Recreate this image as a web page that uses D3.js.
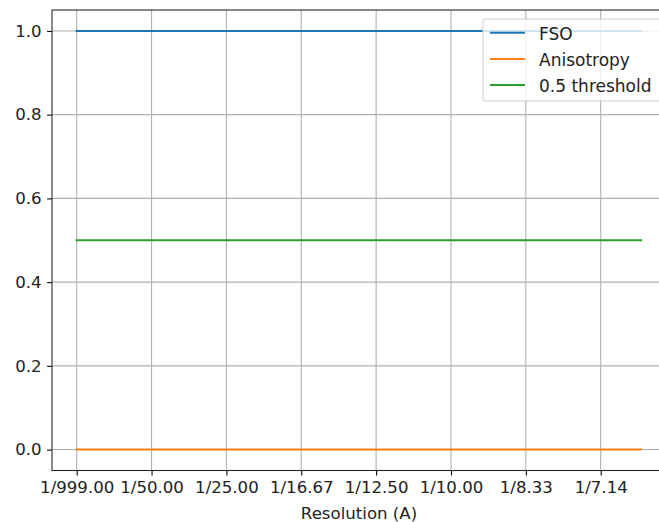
<!DOCTYPE html>
<html>
<head>
<meta charset="utf-8">
<script src="https://cdn.jsdelivr.net/npm/d3@7"></script>
<style>
  body { margin: 0; background: #fff; }
  svg { display: block; font-family: "DejaVu Sans", sans-serif; }
</style>
</head>
<body>
<script>
'use strict';

// data
const freq = [0, 0.02, 0.04, 0.06, 0.08, 0.10, 0.12, 0.14, 0.1508];
const fso = [1, 1, 1, 1, 1, 1, 1, 1, 1];
const anisotropy = [0, 0, 0, 0, 0, 0, 0, 0, 0];
const threshold = [0.5, 0.5, 0.5, 0.5, 0.5, 0.5, 0.5, 0.5, 0.5];
const xTicks = [0, 0.02, 0.04, 0.06, 0.08, 0.10, 0.12, 0.14];
const xTickLabels = ["1/999.00", "1/50.00", "1/25.00", "1/16.67", "1/12.50", "1/10.00", "1/8.33", "1/7.14"];
const yTicks = [0, 0.2, 0.4, 0.6, 0.8, 1.0];
const seriesNames = ["FSO", "Anisotropy", "0.5 threshold"];
const colors = ["#1f77b4", "#ff7f0e", "#2ca02c"];

(function () {
  const width = 659, height = 522;
  const plotLeft = 52, plotRight = 666, plotTop = 10, plotBottom = 470.5;
  const font = '"DejaVu Sans", sans-serif';
  const fontSize = 16.6;

  const svg = d3.select('body').append('svg')
    .attr('width', width)
    .attr('height', height);

  // scales: x(0) lands at 76.7, x(0.14) at 600.7
  const xScale = d3.scaleLinear()
    .domain([0, 0.14])
    .range([76.7, 600.7]);
  const yScale = d3.scaleLinear()
    .domain([-0.05, 1.05])
    .range([plotBottom, plotTop]);

  // grid
  svg.append('g').selectAll('line')
    .data(xTicks)
    .enter().append('line')
    .attr('x1', d => xScale(d)).attr('x2', d => xScale(d))
    .attr('y1', plotTop).attr('y2', plotBottom)
    .attr('stroke', '#b0b0b0').attr('stroke-width', 1.07);
  svg.append('g').selectAll('line')
    .data(yTicks)
    .enter().append('line')
    .attr('x1', plotLeft).attr('x2', plotRight)
    .attr('y1', d => yScale(d)).attr('y2', d => yScale(d))
    .attr('stroke', '#b0b0b0').attr('stroke-width', 1.07);

  // lines
  const allSeries = [fso, anisotropy, threshold];
  const line = d3.line()
    .x((d, i) => xScale(freq[i]))
    .y(d => yScale(d));
  allSeries.forEach((s, k) => {
    svg.append('path')
      .datum(s)
      .attr('d', line)
      .attr('fill', 'none')
      .attr('stroke', colors[k])
      .attr('stroke-width', 2)
      .attr('stroke-linecap', 'square');
  });

  // axes
  let xAxis = d3.axisBottom(xScale)
    .tickValues(xTicks)
    .tickFormat((d, i) => xTickLabels[i])
    .tickSize(4.9).tickPadding(5.5);
  let gx = svg.append('g')
    .attr('transform', 'translate(0,' + plotBottom + ')')
    .call(xAxis)
    .attr('font-family', font)
    .attr('font-size', fontSize);
  gx.select('.domain').remove();
  gx.selectAll('line').attr('stroke', '#000').attr('stroke-width', 1.07);
  gx.selectAll('text').attr('fill', '#222');

  let yAxis = d3.axisLeft(yScale)
    .tickValues(yTicks)
    .tickFormat(d3.format('.1f'))
    .tickSize(4.9).tickPadding(5.5);
  let gy = svg.append('g')
    .attr('transform', 'translate(' + plotLeft + ',0)')
    .call(yAxis)
    .attr('font-family', font)
    .attr('font-size', fontSize);
  gy.select('.domain').remove();
  gy.selectAll('line').attr('stroke', '#000').attr('stroke-width', 1.07);
  gy.selectAll('text').attr('fill', '#222');

  // spines
  svg.append('rect')
    .attr('x', plotLeft).attr('y', plotTop)
    .attr('width', plotRight - plotLeft).attr('height', plotBottom - plotTop)
    .attr('fill', 'none')
    .attr('stroke', '#222').attr('stroke-width', 1.07);

  // x label
  svg.append('text')
    .attr('x', 359)
    .attr('y', 519)
    .attr('text-anchor', 'middle')
    .attr('fill', '#222')
    .style('font-size', fontSize + 'px')
    .text('Resolution (A)');

  // legend
  const legend = svg.append('g')
    .attr('transform', 'translate(483,19)');
  legend.append('rect')
    .attr('x', 0).attr('y', 0)
    .attr('width', 190).attr('height', 82)
    .attr('rx', 3)
    .attr('fill', '#fff').attr('fill-opacity', 0.8)
    .attr('stroke', '#cccccc').attr('stroke-width', 1.07);
  seriesNames.forEach((name, k) => {
    let yy = 13.7 + k * 26.2;
    legend.append('line')
      .attr('x1', 7).attr('x2', 42)
      .attr('y1', yy).attr('y2', yy)
      .attr('stroke', colors[k]).attr('stroke-width', 2);
    legend.append('text')
      .attr('x', 56).attr('y', yy + 6.8)
      .attr('fill', '#222')
      .style('font-size', '17px')
      .text(name);
  });
})();
</script>
</body>
</html>
